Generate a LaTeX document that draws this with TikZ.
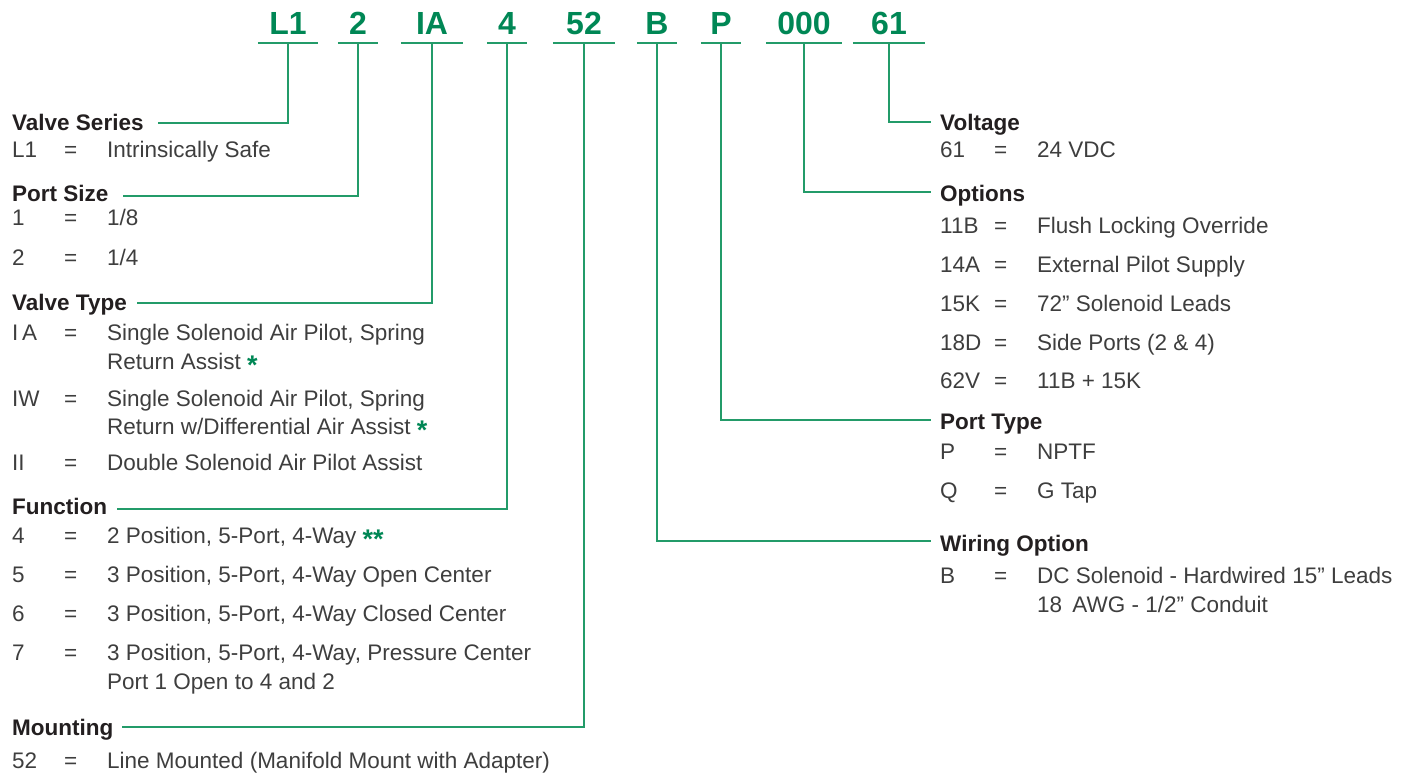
\documentclass[tikz,border=0pt]{standalone}
\usepackage{fontspec}
\setmainfont{Liberation Sans}
\definecolor{grn}{RGB}{0,135,85}
\definecolor{lgrn}{RGB}{35,155,105}
\definecolor{txt}{RGB}{62,62,62}
\definecolor{hd}{RGB}{35,31,32}
\newcommand{\gstar}{\textcolor{grn}{\raisebox{-5pt}{\fontsize{27}{27}\selectfont\bfseries *}}}
\newcommand{\lrow}[4]{%
  \node[body] (#1c) at (12,#2) {#3};
  \node[body] (#1e) at (64,#2) {=};
  \node[body] (#1d) at (107,#2) {#4};}
\newcommand{\rrow}[4]{%
  \node[body] (#1c) at (940,#2) {#3};
  \node[body] (#1e) at (994,#2) {=};
  \node[body] (#1d) at (1037,#2) {#4};}
\newcommand{\cont}[3]{\node[body] (#1) at (#2,#3)}
\begin{document}
\begin{tikzpicture}[x=1pt,y=-1pt,
  body/.style={anchor=base west, inner sep=0pt, font=\fontsize{22.5}{26}\selectfont, text=txt},
  head/.style={anchor=base west, inner sep=0pt, font=\fontsize{22.5}{26}\selectfont\bfseries, text=hd},
  code/.style={anchor=south, inner xsep=0pt, inner ysep=8pt, text depth=0pt, font=\fontsize{32}{36}\selectfont\bfseries, text=grn},
  gline/.style={draw=lgrn, line width=1.7pt},
]
\useasboundingbox (0,0) rectangle (1413,772);

% code letters
\node[code, minimum width=60] (cL1) at (288,43) {L1};
\node[code, minimum width=40] (c2) at (358,43) {2};
\node[code, minimum width=62] (cIA) at (432,43) {IA};
\node[code, minimum width=40] (c4) at (507,43) {4};
\node[code, minimum width=62] (c52) at (584,43) {52};
\node[code, minimum width=40] (cB) at (657,43) {B};
\node[code, minimum width=40] (cP) at (721,43) {P};
\node[code, minimum width=76] (c000) at (804,43) {000};
\node[code, minimum width=72] (c61) at (889,43) {61};
\foreach \n in {cL1,c2,cIA,c4,c52,cB,cP,c000,c61}
  \draw[gline] (\n.south west) -- (\n.south east);

% left column
\node[head] (hVS) at (12,130) {Valve Series};
\lrow{vs1}{157}{L1}{Intrinsically Safe}
\node[head] (hPS) at (12,201) {Port Size};
\lrow{ps1}{225}{1}{1/8}
\lrow{ps2}{265}{2}{1/4}
\node[head] (hVT) at (12,310) {Valve Type};
\lrow{vt1}{340}{I\,A}{Single Solenoid Air Pilot, Spring}
\cont{vt1b}{107}{369} {Return Assist \gstar};
\lrow{vt2}{406}{IW}{Single Solenoid Air Pilot, Spring}
\cont{vt2b}{107}{434} {Return w/Differential Air Assist \gstar};
\lrow{vt3}{470}{II}{Double Solenoid Air Pilot Assist}
\node[head] (hFN) at (12,514) {Function};
\lrow{fn1}{543}{4}{2 Position, 5-Port, 4-Way \gstar\gstar}
\lrow{fn2}{582}{5}{3 Position, 5-Port, 4-Way Open Center}
\lrow{fn3}{621}{6}{3 Position, 5-Port, 4-Way Closed Center}
\lrow{fn4}{660}{7}{3 Position, 5-Port, 4-Way, Pressure Center}
\cont{fn4b}{107}{689} {Port 1 Open to 4 and 2};
\node[head] (hMT) at (12,735) {Mounting};
\lrow{mt1}{768}{52}{Line Mounted (Manifold Mount with Adapter)}

% right column
\node[head] (hVO) at (940,130) {Voltage};
\rrow{vo1}{157}{61}{24 VDC}
\node[head] (hOP) at (940,201) {Options};
\rrow{op1}{233}{11B}{Flush Locking Override}
\rrow{op2}{272}{14A}{External Pilot Supply}
\rrow{op3}{311}{15K}{72” Solenoid Leads}
\rrow{op4}{350}{18D}{Side Ports (2 \& 4)}
\rrow{op5}{388}{62V}{11B + 15K}
\node[head] (hPT) at (940,429) {Port Type};
\rrow{pt1}{459}{P}{NPTF}
\rrow{pt2}{498}{Q}{G Tap}
\node[head] (hWO) at (940,551) {Wiring Option};
\rrow{wo1}{583}{B}{DC Solenoid - Hardwired 15” Leads}
\cont{wo1b}{1037}{612} {18\hspace{0.45em}AWG - 1/2” Conduit};

% connectors
\draw[gline] (cL1.south) |- ([xshift=14pt,yshift=7pt]hVS.base east);
\draw[gline] (c2.south) |- ([xshift=14pt,yshift=5pt]hPS.base east);
\draw[gline] (cIA.south) |- ([xshift=10pt,yshift=7pt]hVT.base east);
\draw[gline] (c4.south) |- ([xshift=10pt,yshift=5pt]hFN.base east);
\draw[gline] (c52.south) |- ([xshift=8pt,yshift=8pt]hMT.base east);
\draw[gline] (cB.south) |- ([xshift=-9pt,yshift=10pt]hWO.base west);
\draw[gline] (cP.south) |- ([xshift=-9pt,yshift=9pt]hPT.base west);
\draw[gline] (c000.south) |- ([xshift=-9pt,yshift=9pt]hOP.base west);
\draw[gline] (c61.south) |- ([xshift=-9pt,yshift=8pt]hVO.base west);
\end{tikzpicture}
\end{document}
